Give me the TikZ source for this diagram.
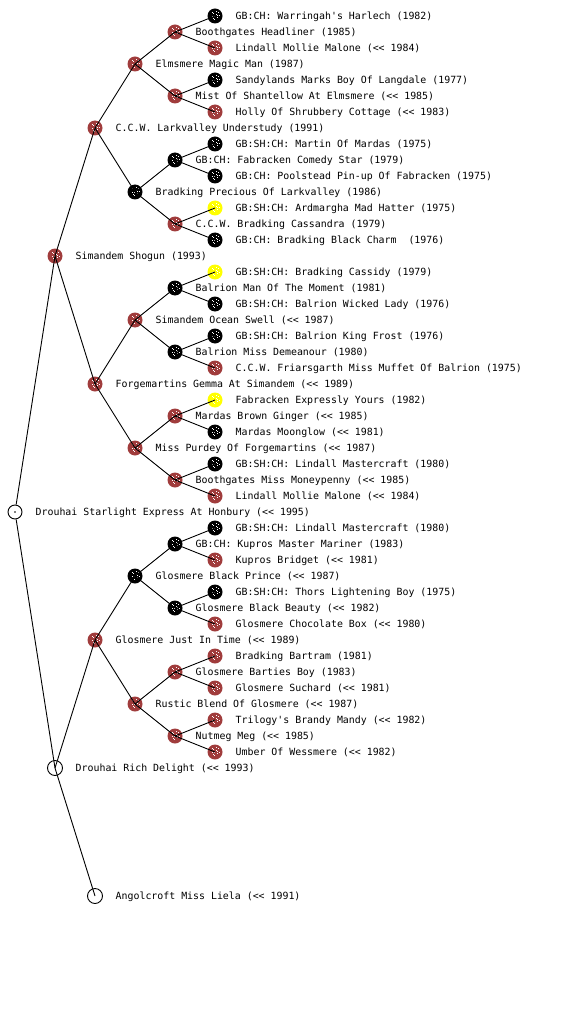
\documentclass[tikz,border=0pt]{standalone}
\usepackage{fontspec}
\newfontfamily\labfont{DejaVu Sans Mono}
\definecolor{dogred}{RGB}{160,60,60}
\definecolor{dogyel}{RGB}{255,255,0}
\tikzset{
  speckle/.style={path picture={
    \foreach \dx/\dy in {-3.5/-1, -2/2.5, -1/-3.5, 0.5/1, 2/-2, 3/2.8, -3/2.9, 3.6/-0.3, 1.2/3.8, -0.6/-0.8, 1.8/0.6, -2.2/-2.6}
      \fill[white] (path picture bounding box.center) ++(\dx pt,\dy pt) rectangle ++(0.8pt,0.8pt);
  }},
  rn/.style={circle, inner sep=0pt, minimum size=15pt, fill=dogred, speckle},
  bn/.style={circle, inner sep=0pt, minimum size=15pt, fill=black, speckle},
  yn/.style={circle, inner sep=0pt, minimum size=15pt, fill=dogyel, speckle},
  on/.style={circle, inner sep=0pt, minimum size=15pt, draw=black, line width=0.9pt},
  rootn/.style={circle, inner sep=0pt, minimum size=14pt, draw=black, fill=white, line width=0.9pt,
    path picture={\fill[black] (path picture bounding box.center) circle (0.8pt);}},
  lab/.style={anchor=west, inner sep=0pt, text height=7pt, text depth=0pt,
    font=\labfont\fontsize{9.9}{12}\selectfont},
  conn/.style={line width=0.9pt, black},
}
\newcommand\mydog[5]{%
  \node[#1] (#2) at (#3,#4) {};
  \node[lab] (#2-t) at (#3+20.5,#4) {#5};
}
\begin{document}
\begin{tikzpicture}[x=1pt,y=-1pt]
\useasboundingbox (0,0) rectangle (560,1024);
\fill[white] (0,0) rectangle (560,1024);
% level 0
\mydog{rootn}{u}{15}{512}{Drouhai Starlight Express At Honbury (<< 1995)}
% level 1
\mydog{rn}{t256}{55}{256}{Simandem Shogun (1993)}
\mydog{on}{t768}{55}{768}{Drouhai Rich Delight (<< 1993)}
% level 2
\mydog{rn}{s128}{95}{128}{C.C.W. Larkvalley Understudy (1991)}
\mydog{rn}{s384}{95}{384}{Forgemartins Gemma At Simandem (<< 1989)}
\mydog{rn}{s640}{95}{640}{Glosmere Just In Time (<< 1989)}
\mydog{on}{s896}{95}{896}{Angolcroft Miss Liela (<< 1991)}
% level 3
\mydog{rn}{r64}{135}{64}{Elmsmere Magic Man (1987)}
\mydog{bn}{r192}{135}{192}{Bradking Precious Of Larkvalley (1986)}
\mydog{rn}{r320}{135}{320}{Simandem Ocean Swell (<< 1987)}
\mydog{rn}{r448}{135}{448}{Miss Purdey Of Forgemartins (<< 1987)}
\mydog{bn}{r576}{135}{576}{Glosmere Black Prince (<< 1987)}
\mydog{rn}{r704}{135}{704}{Rustic Blend Of Glosmere (<< 1987)}
% level 4
\mydog{rn}{q32}{175}{32}{Boothgates Headliner (1985)}
\mydog{rn}{q96}{175}{96}{Mist Of Shantellow At Elmsmere (<< 1985)}
\mydog{bn}{q160}{175}{160}{GB:CH: Fabracken Comedy Star (1979)}
\mydog{rn}{q224}{175}{224}{C.C.W. Bradking Cassandra (1979)}
\mydog{bn}{q288}{175}{288}{Balrion Man Of The Moment (1981)}
\mydog{bn}{q352}{175}{352}{Balrion Miss Demeanour (1980)}
\mydog{rn}{q416}{175}{416}{Mardas Brown Ginger (<< 1985)}
\mydog{rn}{q480}{175}{480}{Boothgates Miss Moneypenny (<< 1985)}
\mydog{bn}{q544}{175}{544}{GB:CH: Kupros Master Mariner (1983)}
\mydog{bn}{q608}{175}{608}{Glosmere Black Beauty (<< 1982)}
\mydog{rn}{q672}{175}{672}{Glosmere Barties Boy (1983)}
\mydog{rn}{q736}{175}{736}{Nutmeg Meg (<< 1985)}
% level 5
\mydog{bn}{p16}{215}{16}{GB:CH: Warringah's Harlech (1982)}
\mydog{rn}{p48}{215}{48}{Lindall Mollie Malone (<< 1984)}
\mydog{bn}{p80}{215}{80}{Sandylands Marks Boy Of Langdale (1977)}
\mydog{rn}{p112}{215}{112}{Holly Of Shrubbery Cottage (<< 1983)}
\mydog{bn}{p144}{215}{144}{GB:SH:CH: Martin Of Mardas (1975)}
\mydog{bn}{p176}{215}{176}{GB:CH: Poolstead Pin-up Of Fabracken (1975)}
\mydog{yn}{p208}{215}{208}{GB:SH:CH: Ardmargha Mad Hatter (1975)}
\mydog{bn}{p240}{215}{240}{GB:CH: Bradking Black Charm\ \ (1976)}
\mydog{yn}{p272}{215}{272}{GB:SH:CH: Bradking Cassidy (1979)}
\mydog{bn}{p304}{215}{304}{GB:SH:CH: Balrion Wicked Lady (1976)}
\mydog{bn}{p336}{215}{336}{GB:SH:CH: Balrion King Frost (1976)}
\mydog{rn}{p368}{215}{368}{C.C.W. Friarsgarth Miss Muffet Of Balrion (1975)}
\mydog{yn}{p400}{215}{400}{Fabracken Expressly Yours (1982)}
\mydog{bn}{p432}{215}{432}{Mardas Moonglow (<< 1981)}
\mydog{bn}{p464}{215}{464}{GB:SH:CH: Lindall Mastercraft (1980)}
\mydog{rn}{p496}{215}{496}{Lindall Mollie Malone (<< 1984)}
\mydog{bn}{p528}{215}{528}{GB:SH:CH: Lindall Mastercraft (1980)}
\mydog{rn}{p560}{215}{560}{Kupros Bridget (<< 1981)}
\mydog{bn}{p592}{215}{592}{GB:SH:CH: Thors Lightening Boy (1975)}
\mydog{rn}{p624}{215}{624}{Glosmere Chocolate Box (<< 1980)}
\mydog{rn}{p656}{215}{656}{Bradking Bartram (1981)}
\mydog{rn}{p688}{215}{688}{Glosmere Suchard (<< 1981)}
\mydog{rn}{p720}{215}{720}{Trilogy's Brandy Mandy (<< 1982)}
\mydog{rn}{p752}{215}{752}{Umber Of Wessmere (<< 1982)}
% connectors
\draw[conn] (u) -- (t256.center);
\draw[conn] (u) -- (t768.center);
\foreach \a/\b in {t256/s128, t256/s384, t768/s640, t768/s896,
  s128/r64, s128/r192, s384/r320, s384/r448, s640/r576, s640/r704,
  r64/q32, r64/q96, r192/q160, r192/q224, r320/q288, r320/q352,
  r448/q416, r448/q480, r576/q544, r576/q608, r704/q672, r704/q736,
  q32/p16, q32/p48, q96/p80, q96/p112, q160/p144, q160/p176,
  q224/p208, q224/p240, q288/p272, q288/p304, q352/p336, q352/p368,
  q416/p400, q416/p432, q480/p464, q480/p496, q544/p528, q544/p560,
  q608/p592, q608/p624, q672/p656, q672/p688, q736/p720, q736/p752}
  \draw[conn] (\a.center) -- (\b.center);
\end{tikzpicture}
\end{document}
